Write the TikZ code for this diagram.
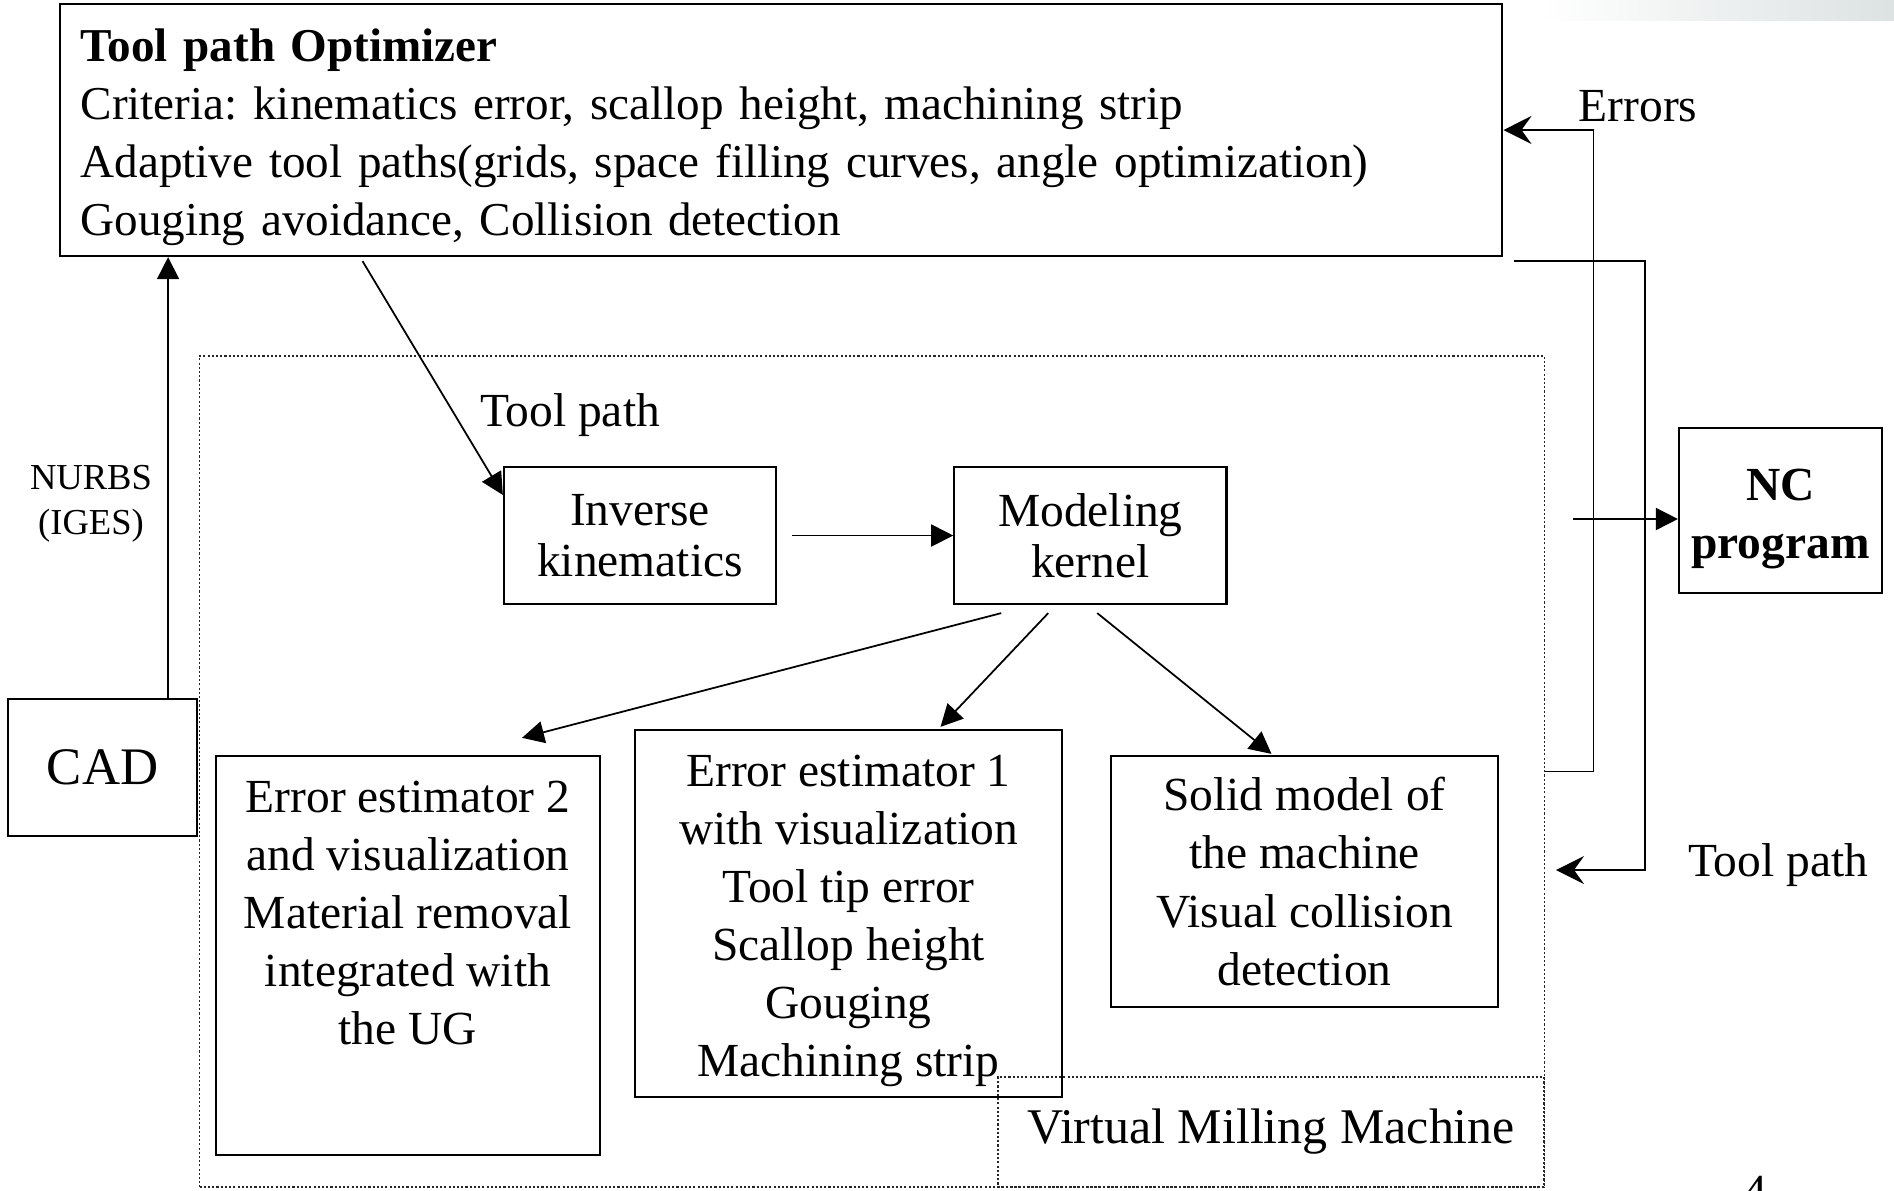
\documentclass[tikz,border=0pt]{standalone}
\usepackage{fontspec}
\setmainfont{Liberation Serif}
\frenchspacing
\usetikzlibrary{positioning,arrows.meta,calc}

\newcommand{\boxfont}{\fontsize{13.5}{16.5}\selectfont}
\newcommand{\tightboxfont}{\fontsize{13.5}{14.5}\selectfont}
\newcommand{\smallboxfont}{\fontsize{10.4}{12.8}\selectfont}

\begin{document}
\begin{tikzpicture}[
      x=0.01cm, y=-0.01cm,
      >={Triangle[length=2.2mm,width=2.2mm]},
      auto
    ]

    \tikzstyle{box} = [rectangle, draw=black, line width=0.6pt, inner sep=0pt, align=center, font=\boxfont]
    \tikzstyle{dotbox} = [rectangle, draw=black!85, line width=0.5pt, dash pattern=on 0.6pt off 0.6pt, inner sep=0pt, font=\boxfont]
    \tikzstyle{arrow} = [line width=0.5pt, ->]
    \tikzstyle{back} = [line width=0.5pt, -{Stealth[length=2.8mm,width=2.8mm,inset=1mm]}]
    \tikzstyle{lbl} = [font=\boxfont, inner sep=0pt]

    \useasboundingbox (0,0) rectangle (1894,1190);
    \shade [left color=white, right color=cyan!8!gray!25] (1540,0) rectangle (1894,20);

    % virtual milling machine
    \node [dotbox, minimum width=13.44cm, minimum height=8.31cm] (vmm) at (872,771.5) {};
    \node [dotbox, minimum width=5.46cm, minimum height=1.10cm, font=\fontsize{14.2}{17}\selectfont] (vmmlabel) at (1271,1132) {Virtual Milling Machine};

    \node [box, minimum width=14.42cm, minimum height=2.52cm, text width=14cm, align=left, text height=13.2pt, font=\fontsize{13.4}{16.5}\selectfont] (optim) at (781,130) {
    	\textbf{Tool path Optimizer}\\
    	Criteria: kinematics error, scallop height, machining strip\\
    	Adaptive tool paths(grids, space filling curves, angle optimization)\\
    	Gouging avoidance, Collision detection
        };
    \node [box, minimum width=1.89cm, minimum height=1.37cm, font=\fontsize{15}{18}\selectfont] (cad) at (102.5,767.5) {CAD};
    \node [box, minimum width=2.03cm, minimum height=1.65cm, text width=2.03cm, text height=14pt, font=\boxfont\bfseries] (nc) at (1780.5,510.5) {NC\\program};

    \node [box, minimum width=2.72cm, minimum height=1.37cm, font=\tightboxfont] (inv) at (640,535.5) {Inverse\\kinematics};
    \node [box, minimum width=2.72cm, minimum height=1.37cm, font=\tightboxfont] (model) [right=1.76cm of inv] {Modeling\\kernel};

    \node [box, minimum width=3.84cm, minimum height=3.99cm] (est2) at (408,955.5) {\parbox[c][3.99cm][t]{3.84cm}{\centering\vspace*{0.25cm}Error estimator 2\\and visualization\\Material removal\\integrated with\\the UG}};
    \node [box, minimum width=4.27cm, minimum height=3.67cm] (est1) at (848.5,913.5) {\parbox[c][3.67cm][t]{4.27cm}{\centering\vspace*{0.25cm}Error estimator 1\\with visualization\\Tool tip error\\Scallop height\\Gouging\\Machining strip}};
    \node [box, minimum width=3.87cm, minimum height=2.51cm] (solid) at (1304.5,881.5) {
    	Solid model of\\the machine\\Visual collision\\detection
    	};

    \node [lbl] (errlbl) at (1638,106) {Errors};
    \node [lbl] (tplblout) at (1778,865) {Tool path};
    \node [lbl] (tplblin) at (570,415) {Tool path};
    \node [font=\smallboxfont, align=center, inner sep=0pt] (nurbs) at (91,504) {NURBS\\(IGES)};

    \draw [arrow] ([xshift=-0.3cm]cad.north east) -- ([xshift=-0.3cm]cad.north east |- optim.south);
    \draw [arrow] ($(optim.south west)+(304,4)$) -- ([yshift=-0.29cm]inv.north west);
    \draw [arrow] ([xshift=0.15cm]inv.east) -- (model.west);
    \draw [arrow] ($(model.south west)+(48,8)$) -- ($(est2.north)+(114,-17)$);
    \draw [arrow] ($(model.south west)+(95,8)$) -- ($(est1.north)+(92,-2)$);
    \draw [arrow] ($(model.south west)+(144,8)$) -- ($(solid.north)+(-33,-1)$);

    % feedback and output
    \draw [back] (vmm.east) -| ($(optim.east)+(90,0)$) -- (optim.east);
    \coordinate (tpout) at (1514,261);
    \coordinate (tpin) at (1556,870);
    \draw [back] (tpout) -- ++(131,0) |- (tpin);
    \coordinate (ncout) at (1573,519);
    \draw [arrow] (ncout) -- (ncout -| nc.west);

    \begin{scope}
      \clip (0,0) rectangle (1894,1190);
      \node [lbl, anchor=north] (pageno) at (1755,1176) {4};
    \end{scope}

\end{tikzpicture}
\end{document}
